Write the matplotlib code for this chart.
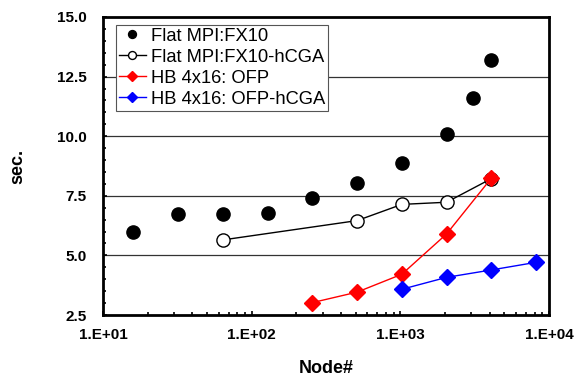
import matplotlib.pyplot as plt
import numpy as np
from matplotlib.ticker import FixedLocator, MultipleLocator, FormatStrFormatter, LogLocator, NullFormatter

plt.rcParams['font.family'] = ['Liberation Sans', 'DejaVu Sans']

# -------------------------- data --------------------------
flat_nodes = [16, 32, 64, 128, 256, 512, 1024, 2048, 3072, 4096]
flat_sec = [6.0, 6.72, 6.73, 6.78, 7.39, 8.05, 8.86, 10.09, 11.59, 13.2]

hcga_nodes = [64, 512, 1024, 2048, 4096]
hcga_sec = [5.65, 6.46, 7.14, 7.23, 8.22]

hb_nodes = [256, 512, 1024, 2048, 4096]
hb_sec = [3.02, 3.46, 4.21, 5.90, 8.24]

hbh_nodes = [1024, 2048, 4096, 8192]
hbh_sec = [3.58, 4.08, 4.39, 4.71]

yticks = [2.5, 5.0, 7.5, 10.0, 12.5, 15.0]
xticks = [1e1, 1e2, 1e3, 1e4]
xticklabels = ['1.E+01', '1.E+02', '1.E+03', '1.E+04']

# -------------------------- figure --------------------------
fig = plt.figure(figsize=(5.74, 3.76), dpi=100)
ax = fig.add_axes([0.1794, 0.1622, 0.9564 - 0.1794, 0.9548 - 0.1622])

ax.plot(flat_nodes, flat_sec, linestyle='none', marker='o', color='black',
        markersize=9.5, label='Flat MPI:FX10', zorder=3)
ax.plot(hcga_nodes, hcga_sec, '-', color='black', lw=1.0, marker='o',
        markerfacecolor='white', markeredgecolor='black', markeredgewidth=1.0,
        markersize=9.5, label='Flat MPI:FX10-hCGA', zorder=3)
ax.plot(hb_nodes, hb_sec, '-', color='red', lw=1.0, marker='D',
        markersize=8.5, label='HB 4x16: OFP', zorder=4)
ax.plot(hbh_nodes, hbh_sec, '-', color='blue', lw=1.0, marker='D',
        markersize=8.5, label='HB 4x16: OFP-hCGA', zorder=4)

ax.set_xscale('log')
ax.set_xlim(10, 10000)
ax.set_ylim(2.5, 15.0)

# horizontal grid lines
for yv in yticks[1:-1]:
    ax.axhline(yv, color='#333333', lw=0.9, zorder=1)

ax.yaxis.set_major_locator(FixedLocator(yticks))
ax.yaxis.set_major_formatter(FormatStrFormatter('%.1f'))
ax.yaxis.set_minor_locator(MultipleLocator(0.5))
ax.xaxis.set_major_locator(FixedLocator(xticks))
ax.set_xticklabels(xticklabels)
ax.xaxis.set_minor_locator(LogLocator(base=10, subs=np.arange(2, 10)))
ax.xaxis.set_minor_formatter(NullFormatter())

ax.tick_params(axis='both', which='both', direction='in', width=1.2)
ax.tick_params(axis='both', which='major', length=3)
ax.tick_params(axis='both', which='minor', length=2.5)
ax.tick_params(axis='y', which='major', pad=12, labelsize=11)
ax.tick_params(axis='x', which='major', pad=9, labelsize=11)
for lbl in ax.get_xticklabels() + ax.get_yticklabels():
    lbl.set_fontweight('bold')

for sp in ax.spines.values():
    sp.set_linewidth(2.0)

ax.set_xlabel('Node#', fontsize=13, fontweight='bold', labelpad=13)
ax.set_ylabel('sec.', fontsize=13, fontweight='bold', labelpad=22)

leg = ax.legend(loc='upper left', bbox_to_anchor=(0.029, 0.973), fontsize=13.2,
                markerscale=0.6, handlelength=1.5, handletextpad=0.25,
                labelspacing=0.22, borderpad=0.15, borderaxespad=0,
                fancybox=False, framealpha=1, edgecolor='#555555')
leg.get_frame().set_linewidth(0.8)

fig.savefig('out.png', dpi=100)
